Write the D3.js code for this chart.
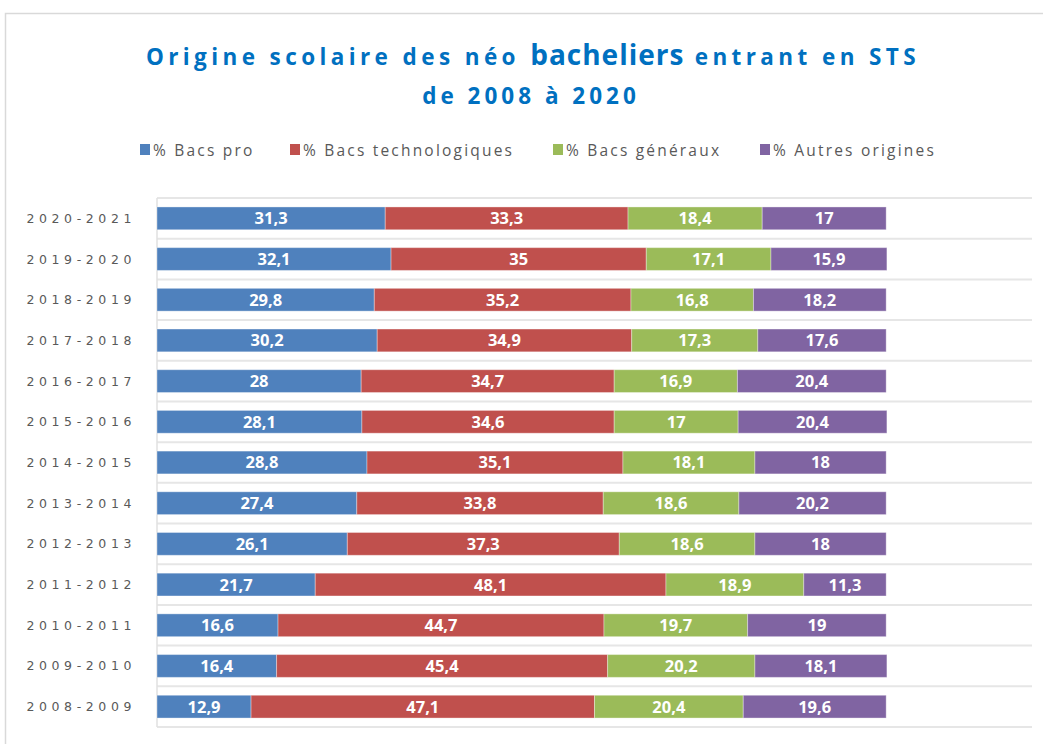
<!DOCTYPE html>
<html>
<head>
<meta charset="utf-8">
<script src="https://cdn.jsdelivr.net/npm/d3@7"></script>
<style>
  body { margin: 0; background: #fff; }
  svg { display: block; }
</style>
</head>
<body>
<svg id="chart" width="1043" height="744"></svg>
<script>
// Data
const years = ['2020-2021', '2019-2020', '2018-2019', '2017-2018', '2016-2017', '2015-2016',
  '2014-2015', '2013-2014', '2012-2013', '2011-2012', '2010-2011', '2009-2010', '2008-2009'];
const seriesNames = ['% Bacs pro', '% Bacs technologiques', '% Bacs généraux', '% Autres origines'];
const bacsPro = [31.3, 32.1, 29.8, 30.2, 28, 28.1, 28.8, 27.4, 26.1, 21.7, 16.6, 16.4, 12.9];
const bacsTechno = [33.3, 35, 35.2, 34.9, 34.7, 34.6, 35.1, 33.8, 37.3, 48.1, 44.7, 45.4, 47.1];
const bacsGeneraux = [18.4, 17.1, 16.8, 17.3, 16.9, 17, 18.1, 18.6, 18.6, 18.9, 19.7, 20.2, 20.4];
const autres = [17, 15.9, 18.2, 17.6, 20.4, 20.4, 18, 20.2, 18, 11.3, 19, 18.1, 19.6];

const colors = ['#4F81BD', '#C0504D', '#9BBB59', '#8064A2'];
const keys = ['pro', 'techno', 'gen', 'autres'];

const rows = years.map((y, i) => ({
  year: y, pro: bacsPro[i], techno: bacsTechno[i], gen: bacsGeneraux[i], autres: autres[i]
}));

const plot = { left: 157, right: 1032, top: 198, bottom: 727 };
const svg = d3.select('#chart');

// outer frame
svg.append('path')
    .attr('d', 'M5.5,760 V13.5 H1050')
    .attr('fill', 'none')
    .attr('stroke', '#d9d9d9')
    .attr('stroke-width', 1.5);

// Title
const title = svg.append('text')
    .attr('x', 533)
    .attr('y', 65)
    .attr('text-anchor', 'middle')
    .attr('fill', '#0070C0')
    .attr('font-family', 'Open Sans, sans-serif')
    .attr('font-weight', 'bold')
    .attr('font-size', 22.5)
    .style('letter-spacing', '4.4px');
title.append('tspan').text('Origine scolaire des néo ');
title.append('tspan').attr('font-size', 28).style('letter-spacing', '1px').text('bacheliers');
title.append('tspan').text(' entrant en STS');

svg.append('text')
    .attr('x', 531)
    .attr('y', 104)
    .attr('text-anchor', 'middle')
    .attr('fill', '#0070C0')
    .attr('font-family', 'Open Sans, sans-serif')
    .attr('font-weight', 'bold')
    .attr('font-size', 22.5)
    .style('letter-spacing', '4px')
    .text('de 2008 à 2020');

// Legend
const legendX = [140, 290, 553, 760];
const legend = svg.append('g').attr('class', 'legend');
seriesNames.forEach((name, i) => {
  legend.append('rect')
      .attr('x', legendX[i])
      .attr('y', 144)
      .attr('width', 10)
      .attr('height', 11)
      .attr('fill', colors[i]);
  legend.append('text')
      .attr('x', legendX[i] + 13)
      .attr('y', 156)
      .attr('fill', '#595959')
      .attr('font-family', 'Open Sans, sans-serif')
      .attr('font-size', 15.5)
      .style('letter-spacing', '2.2px')
      .text(name);
});

// Scales
const xScale = d3.scaleLinear()
    .domain([0, 120])
    .range([plot.left, plot.right]);

const yScale = d3.scaleBand()
    .domain(years)
    .range([plot.top, plot.bottom])
    .paddingInner(0.44)
    .paddingOuter(0.22);

const stack = d3.stack().keys(keys)(rows);

// Grid lines between categories
const gridY = d3.range(years.length + 1).map(i => plot.top + i * (plot.bottom - plot.top) / years.length);
svg.append('g')
    .selectAll('line')
    .data(gridY)
    .enter()
    .append('line')
    .attr('x1', plot.left)
    .attr('x2', plot.right)
    .attr('y1', d => d)
    .attr('y2', d => d)
    .attr('stroke', '#e6e6e6')
    .attr('stroke-width', 2);

// left axis line
svg.append('line')
    .attr('x1', plot.left)
    .attr('x2', plot.left)
    .attr('y1', plot.top)
    .attr('y2', plot.bottom)
    .attr('stroke', '#e0e0e0')
    .attr('stroke-width', 1.5);

// Bars
const layers = svg.append('g')
    .selectAll('g')
    .data(stack)
    .enter()
    .append('g')
    .attr('fill', (d, i) => colors[i]);

layers.selectAll('rect')
    .data(d => d)
    .enter()
    .append('rect')
    .attr('x', d => xScale(d[0]))
    .attr('y', d => yScale(d.data.year))
    .attr('width', d => xScale(d[1]) - xScale(d[0]))
    .attr('height', yScale.bandwidth())
    .attr('stroke', 'rgba(255,255,255,0.35)')
    .attr('stroke-width', 1);

// Value labels
const fmt = v => String(v).replace('.', ',');
layers.selectAll('text')
    .data(d => d.map(p => ({ p, key: d.key })))
    .enter()
    .append('text')
    .attr('x', d => (xScale(d.p[0]) + xScale(d.p[1])) / 2)
    .attr('y', d => yScale(d.p.data.year) + yScale.bandwidth() / 2)
    .attr('dy', '0.36em')
    .attr('text-anchor', 'middle')
    .attr('fill', '#fff')
    .attr('font-family', 'Open Sans, sans-serif')
    .attr('font-weight', 'bold')
    .attr('font-size', 16.5)
    .text(d => fmt(d.p.data[d.key]));

// Category labels
svg.append('g')
    .selectAll('text')
    .data(years)
    .enter()
    .append('text')
    .attr('x', 136)
    .attr('y', d => yScale(d) + yScale.bandwidth() / 2)
    .attr('dy', '0.36em')
    .attr('text-anchor', 'end')
    .attr('fill', '#595959')
    .attr('font-family', 'DejaVu Sans, sans-serif')
    .attr('font-size', 12.5)
    .style('letter-spacing', '4.6px')
    .text(d => d);
</script>
</body>
</html>
